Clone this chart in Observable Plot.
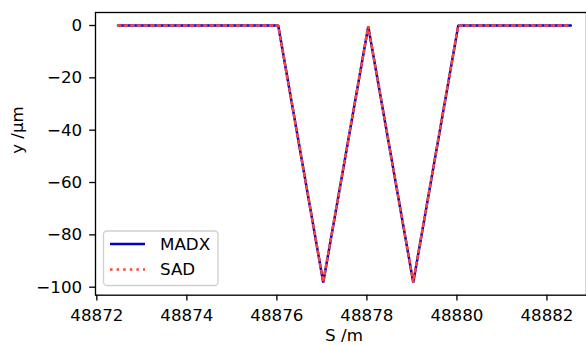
<!DOCTYPE html>
<html>
<head>
<meta charset="utf-8">
<script src="https://cdn.jsdelivr.net/npm/d3@7"></script>
<script src="https://cdn.jsdelivr.net/npm/@observablehq/plot@0.6"></script>
<style>
  html, body { margin: 0; padding: 0; background: #fff; overflow: hidden; }
  #wrap { position: relative; width: 586px; height: 345px; overflow: hidden; font-family: "DejaVu Sans", sans-serif; }
  #wrap svg.plot { overflow: hidden; }
</style>
</head>
<body>
<div id="wrap"></div>
<script>
// S positions (m) and vertical orbit y (µm)
const sMadx = [48872.47, 48874.0, 48876.03, 48877.03, 48878.03, 48879.03, 48880.03, 48881.5, 48882.53];
const yMadx = [0, 0, 0, -98.2, -0.4, -98.2, 0, 0, 0];
const sSad  = [48872.47, 48874.0, 48876.03, 48877.03, 48878.03, 48879.03, 48880.03, 48881.5, 48882.53];
const ySad  = [0, 0, 0, -98.0, -0.3, -98.0, 0, 0, 0];

const xTicks = [48872, 48874, 48876, 48878, 48880, 48882];
const yTicks = [0, -20, -40, -60, -80, -100];
const seriesNames = ["MADX", "SAD"];
const seriesColors = ["#0000cd", "#ff4530"];

const madx = sMadx.map((s, i) => ({s, y: yMadx[i]}));
const sad = sSad.map((s, i) => ({s, y: ySad[i]}));

const fs = 16.7;
const minus = d => d < 0 ? "\u2212" + Math.abs(d) : String(d);

const chart = Plot.plot({
  width: 586,
  height: 345,
  marginLeft: 95,
  marginTop: 12,
  marginBottom: 50.3,
  marginRight: 0,
  style: {fontFamily: "DejaVu Sans, sans-serif", fontSize: fs + "px", color: "black", background: "white"},
  x: {domain: [48871.97, 48883.03], range: [95, 592.8]},
  y: {domain: [-103.06, 4.97], range: [294.7, 12]},
  marks: [
    Plot.line(madx, {x: "s", y: "y", stroke: seriesColors[0], strokeWidth: 2.5, strokeLinejoin: "miter"}),
    Plot.line(sad, {x: "s", y: "y", stroke: seriesColors[1], strokeWidth: 2.5, strokeDasharray: "2.5,4.1", strokeLinejoin: "miter"}),
    Plot.frame({stroke: "black", strokeWidth: 1.33}),
    Plot.axisX({ticks: xTicks, tickFormat: d => String(d), tickSize: 5.8, tickPadding: 7.8, strokeWidth: 1.33, label: null, fontSize: fs, fill: "black"}),
    Plot.axisY({ticks: yTicks, tickFormat: minus, tickSize: 5.8, tickPadding: 7.5, strokeWidth: 1.33, label: null, fontSize: fs, fill: "black"}),
    Plot.text(["S /m"], {frameAnchor: "bottom", dy: 34, dx: 3, lineAnchor: "top", fontSize: fs, fill: "black"}),
    Plot.text(["y /\u00b5m"], {frameAnchor: "left", rotate: -90, dx: -78, fontSize: fs, fill: "black"})
  ]
});
chart.classList.add("plot");
document.getElementById("wrap").appendChild(chart);

// legend (HTML/SVG overlay, matplotlib style)
const leg = d3.select("#wrap").append("svg")
  .attr("width", 586).attr("height", 345)
  .style("position", "absolute").style("left", "0px").style("top", "0px")
  .style("pointer-events", "none");
leg.append("rect")
  .attr("x", 103.5).attr("y", 231).attr("width", 114.5).attr("height", 54.5)
  .attr("rx", 3.5).attr("ry", 3.5)
  .attr("fill", "rgba(255,255,255,0.8)").attr("stroke", "#d0d0d0").attr("stroke-width", 1.33);
const rows = [244, 269.5];
seriesNames.forEach((name, i) => {
  const ln = leg.append("line")
    .attr("x1", 110).attr("x2", 145).attr("y1", rows[i]).attr("y2", rows[i])
    .attr("stroke", seriesColors[i]).attr("stroke-width", 2.5);
  if (i === 1) ln.attr("stroke-dasharray", "2.5,4.1");
  leg.append("text")
    .attr("x", 160).attr("y", rows[i] + 5.9)
    .attr("font-family", "DejaVu Sans, sans-serif").attr("font-size", fs)
    .attr("fill", "black").text(name);
});
</script>
</body>
</html>
